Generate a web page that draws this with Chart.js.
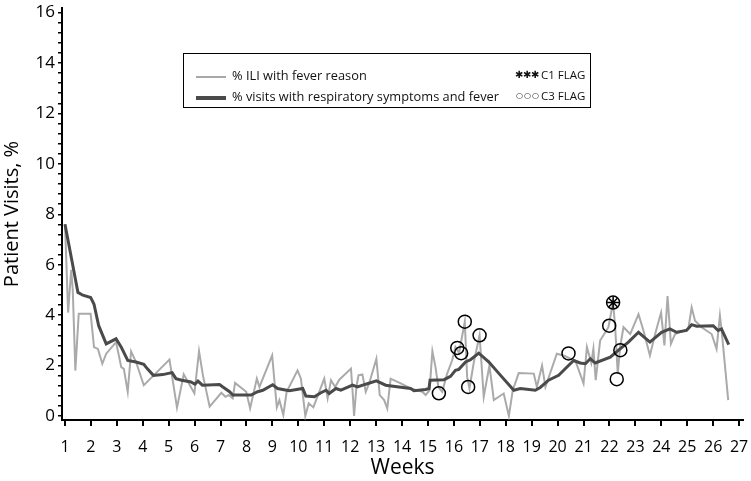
<!DOCTYPE html>
<html>
<head>
<meta charset="utf-8">
<script src="https://cdn.jsdelivr.net/npm/chart.js@4.4.1/dist/chart.umd.min.js"></script>
<style>
  body { margin: 0; background: #fff; }
  #wrap { position: relative; width: 751px; height: 481px; }
  #legend {
    position: absolute; left: 183px; top: 53px; width: 408px; height: 55px;
    border: 1.5px solid #000; box-sizing: border-box;
    font-family: "Open Sans", sans-serif; font-size: 12.8px; color: #111;
  }
  .leg-row { position: absolute; left: 12px; height: 18px; line-height: 18px; white-space: nowrap; }
  .leg-line { display: inline-block; width: 30px; vertical-align: middle; margin-right: 6px; }
  .leg-mark { position: absolute; height: 18px; line-height: 18px; font-family: "DejaVu Sans", sans-serif; }
  .star { font-size: 10px; }
  .ring { font-size: 8px; font-weight: bold; }
  .leg-flag { position: absolute; left: 357px; height: 18px; line-height: 18px; white-space: nowrap; font-size: 11.5px; }
</style>
</head>
<body>
<div id="wrap">
  <canvas id="chart" width="751" height="481"></canvas>
  <div id="legend">
    <div class="leg-row" style="top: 12px;"><span class="leg-line" style="border-top: 2px solid #a8a8a8;"></span>% ILI with fever reason</div>
    <div class="leg-row" style="top: 33px;"><span class="leg-line" style="border-top: 4px solid #4a4a4a;"></span>% visits with respiratory symptoms and fever</div>
    <div class="leg-mark star" style="top: 12px; left: 331px;">✱</div>
    <div class="leg-mark star" style="top: 12px; left: 339px;">✱</div>
    <div class="leg-mark star" style="top: 12px; left: 347px;">✱</div>
    <div class="leg-flag" style="top: 12px;">C1 FLAG</div>
    <div class="leg-mark ring" style="top: 33px; left: 332px;">○</div>
    <div class="leg-mark ring" style="top: 33px; left: 340px;">○</div>
    <div class="leg-mark ring" style="top: 33px; left: 348px;">○</div>
    <div class="leg-flag" style="top: 33px;">C3 FLAG</div>
  </div>
</div>
<script>
// % ILI with fever reason (light grey line)
var iliWeeks = [1.0, 1.05, 1.12, 1.24, 1.3, 1.4, 1.53, 1.99, 2.12, 2.27, 2.44, 2.59, 2.97, 3.17, 3.27, 3.42, 3.55, 3.74,
  4.04, 4.45, 5.03, 5.32, 5.58, 5.99, 6.17, 6.32, 6.58, 7.03, 7.19, 7.32, 7.47, 7.56, 7.99, 8.14, 8.4, 8.5, 8.99,
  9.17, 9.27, 9.42, 9.55, 9.97, 10.1, 10.27, 10.4, 10.58, 11.0, 11.13, 11.26, 11.42, 11.58, 12.03, 12.09, 12.15,
  12.24, 12.32, 12.47, 12.6, 12.73, 13.01, 13.14, 13.31, 13.43, 13.56, 13.95, 14.33, 14.78, 14.91, 15.06, 15.17,
  15.29, 15.4, 15.55, 15.74, 15.93, 16.06, 16.2, 16.42, 16.51, 16.6, 16.77, 16.99, 17.15, 17.37, 17.54, 17.92,
  18.12, 18.27, 18.5, 19.08, 19.2, 19.4, 19.53, 19.97, 20.23, 20.49, 20.68, 21.0, 21.13, 21.3, 21.38, 21.47,
  21.64, 21.96, 22.09, 22.14, 22.22, 22.32, 22.41, 22.54, 22.8, 23.12, 23.31, 23.56, 23.78, 23.99, 24.12, 24.24,
  24.37, 24.53, 25.04, 25.17, 25.3, 25.55, 25.94, 26.13, 26.26, 26.32, 26.58];
var iliValues = [7.6, 6.2, 4.1, 5.8, 5.0, 1.8, 4.05, 4.05, 2.73, 2.66, 2.07, 2.47, 2.93, 1.94, 1.87, 0.96, 2.56, 2.14,
  1.22, 1.64, 2.24, 0.33, 1.65, 0.9, 2.57, 1.61, 0.37, 0.92, 0.76, 0.83, 0.7, 1.31, 0.96, 0.3, 1.48, 1.15, 2.4,
  0.34, 0.63, 0.04, 0.96, 1.81, 1.48, 0.0, 0.5, 0.34, 1.48, 0.7, 1.42, 1.15, 1.44, 1.88, 1.02, 0.0,
  1.15, 1.61, 1.65, 0.96, 1.29, 2.27, 0.83, 0.63, 0.3, 1.48, 1.29, 1.09, 0.96, 0.83, 1.02, 2.57,
  1.94, 1.15, 0.96, 1.68, 2.2, 2.73, 2.5, 3.74, 1.55, 1.09, 2.14, 3.2, 0.76, 2.0, 0.63, 0.89,
  0.0, 1.02, 1.7, 1.68, 1.15, 2.0, 1.15, 2.47, 2.4, 2.27, 2.2, 1.29, 2.73, 2.1, 2.66, 1.42,
  2.99, 3.52, 4.24, 4.5, 3.52, 1.68, 2.73, 3.52, 3.25, 4.04, 3.39, 2.4, 3.32, 4.1, 2.8, 4.76,
  2.86, 3.25, 3.45, 4.3, 3.78, 3.52, 3.25, 2.66, 3.98, 3.45, 0.63];

// % visits with respiratory symptoms and fever (dark line)
var respWeeks = [1.0, 1.5, 1.69, 1.99, 2.12, 2.3, 2.59, 2.97, 3.17, 3.42, 3.74, 4.04, 4.17, 4.41, 4.77, 5.13, 5.28,
  5.5, 5.86, 6.01, 6.13, 6.3, 6.96, 7.09, 7.35, 7.47, 8.18, 8.43, 8.63, 9.01, 9.2, 9.65, 10.17, 10.29, 10.62,
  10.87, 11.07, 11.19, 11.45, 11.64, 12.09, 12.28, 12.6, 13.01, 13.37, 13.88, 14.33, 14.46, 14.91, 15.04, 15.08,
  15.62, 15.87, 16.06, 16.19, 16.45, 16.64, 16.96, 17.35, 17.8, 18.31, 18.56, 19.14, 19.33, 19.65, 20.04, 20.42,
  20.62, 20.87, 21.07, 21.26, 21.45, 22.03, 22.41, 22.73, 23.12, 23.56, 24.01, 24.33, 24.59, 24.97, 25.17, 25.36,
  26.0, 26.19, 26.32, 26.6];
var respValues = [7.6, 4.9, 4.79, 4.7, 4.43, 3.58, 2.86, 3.06, 2.73, 2.2, 2.14, 2.05, 1.88, 1.61, 1.64, 1.72, 1.48,
  1.42, 1.35, 1.26, 1.38, 1.22, 1.25, 1.15, 0.96, 0.83, 0.83, 0.96, 1.02, 1.24, 1.09, 1.0, 1.09, 0.79, 0.76,
  0.92, 1.02, 0.89, 1.09, 1.02, 1.22, 1.15, 1.26, 1.39, 1.22, 1.15, 1.09, 1.0, 1.05, 1.09, 1.42,
  1.44, 1.57, 1.81, 1.85, 2.14, 2.23, 2.49, 2.14, 1.61, 1.02, 1.09, 1.02, 1.13, 1.42, 1.61, 2.0,
  2.2, 2.1, 2.07, 2.27, 2.1, 2.33, 2.66, 2.93, 3.32, 2.93, 3.32, 3.45, 3.32, 3.39, 3.62, 3.56,
  3.58, 3.39, 3.45, 2.83];

// flagged days
var c3Weeks = [15.42, 16.13, 16.28, 16.42, 16.55, 16.99, 20.42, 21.99, 22.14, 22.28, 22.42];
var c3Values = [0.9, 2.7, 2.49, 3.74, 1.15, 3.2, 2.48, 3.58, 4.5, 1.46, 2.61];
var c1Weeks = [22.14];
var c1Values = [4.5];

var weekTicks = [];
for (var w = 1; w <= 27; w++) weekTicks.push(w);
var yTicks = [];
for (var i = 0; i <= 40; i++) yTicks.push(Math.round(i * 4) / 10);

function toPoints(xs, ys) {
  return xs.map(function (x, i) { return { x: x, y: ys[i] }; });
}

var fontFamily = '"Open Sans", sans-serif';

new Chart(document.getElementById("chart"), {
  type: "line",
  data: {
    datasets: [
      {
        label: "C1 FLAG",
        data: toPoints(c1Weeks, c1Values),
        showLine: false,
        pointStyle: "star",
        pointRadius: 6,
        borderColor: "#000",
        backgroundColor: "#000",
        pointBorderWidth: 1.5,
      },
      {
        label: "C3 FLAG",
        data: toPoints(c3Weeks, c3Values),
        showLine: false,
        pointStyle: "circle",
        pointRadius: 6.5,
        borderColor: "#000",
        backgroundColor: "rgba(0,0,0,0)",
        pointBorderWidth: 1.5,
      },
      {
        label: "% visits with respiratory symptoms and fever",
        data: toPoints(respWeeks, respValues),
        borderColor: "#4a4a4a",
        borderWidth: 3,
        pointRadius: 0,
        tension: 0,
      },
      {
        label: "% ILI with fever reason",
        data: toPoints(iliWeeks, iliValues),
        borderColor: "#aaaaaa",
        borderWidth: 2,
        pointRadius: 0,
        tension: 0,
      },
    ],
  },
  options: {
    responsive: false,
    animation: false,
    layout: { padding: { top: 5, right: 6, left: 0, bottom: 0 } },
    plugins: {
      legend: { display: false },
      tooltip: { enabled: false },
    },
    scales: {
      x: {
        type: "linear",
        min: 0.885,
        max: 27.15,
        border: { color: "#000", width: 2 },
        grid: { drawOnChartArea: false, color: "#000", tickLength: 6, lineWidth: 2 },
        afterBuildTicks: function (scale) {
          scale.ticks = weekTicks.map(function (v) { return { value: v }; });
        },
        ticks: {
          color: "#000",
          autoSkip: false,
          maxRotation: 0,
          padding: 12,
          font: { family: fontFamily, size: 16 },
          callback: function (v) { return v; },
        },
        title: {
          display: true,
          text: "Weeks",
          color: "#000",
          font: { family: fontFamily, size: 21 },
          padding: { top: 0, bottom: 0 },
        },
        afterFit: function (scale) {
          scale.height = 61;
          // let the last label hang over the edge instead of shrinking the plot
          scale.paddingLeft = 0;
          scale.paddingRight = 0;
        },
      },
      y: {
        min: -0.16,
        max: 16.18,
        border: { color: "#000", width: 2 },
        grid: { drawOnChartArea: false, color: "#000", tickLength: 4, lineWidth: 1.5 },
        afterBuildTicks: function (scale) {
          scale.ticks = yTicks.map(function (v) { return { value: v }; });
        },
        ticks: {
          color: "#000",
          autoSkip: false,
          padding: 3,
          font: { family: fontFamily, size: 17 },
          callback: function (v) {
            var r = Math.round(v);
            if (Math.abs(v - r) < 1e-6 && r % 2 === 0) return r;
            return "";
          },
        },
        title: {
          display: true,
          text: "Patient Visits, %",
          color: "#000",
          font: { family: fontFamily, size: 20 },
          padding: { top: 0, bottom: 0 },
        },
        afterFit: function (scale) {
          scale.width = 62;
          scale.paddingTop = 0;
          scale.paddingBottom = 0;
        },
      },
    },
  },
});
</script>
</body>
</html>
